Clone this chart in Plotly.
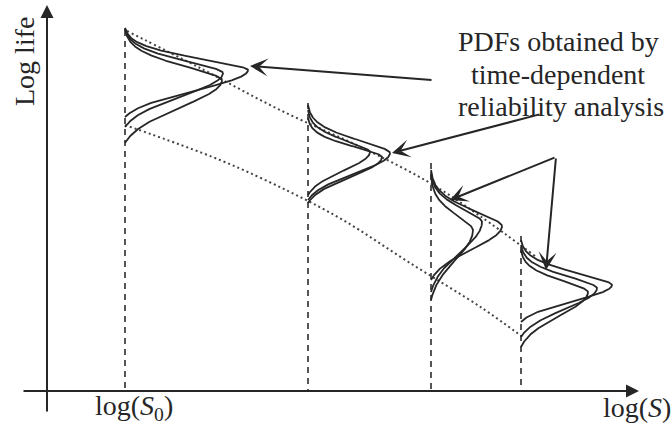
import numpy as np
import plotly.graph_objects as go

# ---- data (chart units: origin at the axes crossing, y = log life, x = log S) ----
stress_levels = [78, 261, 384, 474]          # log(S) positions of the four stress levels
dash_tops = [361, 288, 228, 155]             # top of the dashed guide at each level

# three PDFs per level: top of upper tail, mode, peak height, end of lower tail
pdf_tops = [[363, 363, 362], [286, 281, 273], [221, 219, 216], [151, 146, 141]]
pdf_modes = [[321, 318, 311], [238, 239, 234], [165, 169, 161], [106, 103, 99]]
pdf_peaks = [[123, 98, 97], [82, 62, 74], [71, 51, 42], [91, 76, 67]]
pdf_bottoms = [[274, 264, 248], [191, 196, 188], [111, 99, 91], [69, 54, 44]]

upper_x = [80, 153, 233, 320, 383, 433, 488]
upper_y = [360, 323, 281, 241, 208, 175, 135]
lower_x = [78, 173, 243, 296, 363, 435, 477]
lower_y = [266, 231, 199, 171, 128, 83, 53]

text_lines = ["PDFs obtained by", "time-dependent", "reliability analysis"]
text_x = [511, 511, 514]
text_y = [350, 317, 285]

arrow_tips = [(203, 325), (345, 238), (403, 191), (499, 121)]
arrow_tails = [(386, 311), (494, 277), (509, 234), (509, 234)]

x_axis_ends = [-25, 592]
y_axis_ends = [-22, 386]

INK = "#262626"
FONT = "Liberation Serif, Times New Roman, serif"

fig = go.Figure()


def branch(r, k, p):
    g_end = np.exp(-k ** p)
    return (np.exp(-(k * r) ** p) - g_end) / (1 - g_end)


def pdf_curve(level, top, mode, peak, bottom):
    # upper (long) tail and lower branch of a skewed bell, drawn sideways
    y_up = np.linspace(top, mode, 200)
    g_up = branch((y_up - mode) / (top - mode), 2.4, 1.7)
    y_dn = np.linspace(mode, bottom, 200)[1:]
    g_dn = branch((mode - y_dn) / (mode - bottom), 1.65, 2.0)
    y = np.concatenate([y_up, y_dn])
    g = np.clip(np.concatenate([g_up, g_dn]), 0, None)
    return level + peak * g, y


# dashed guides
for lv, tp in zip(stress_levels, dash_tops):
    fig.add_trace(go.Scatter(x=[lv, lv], y=[tp, 0], mode="lines",
                             line=dict(color="#444", width=1.8, dash="6px,5px"),
                             hoverinfo="skip", showlegend=False))

# dotted bounds
for xs, ys in [(upper_x, upper_y), (lower_x, lower_y)]:
    fig.add_trace(go.Scatter(x=xs, y=ys, mode="lines", line_shape="spline",
                             line=dict(color="#444", width=2, dash="2px,3px"),
                             hoverinfo="skip", showlegend=False))

# PDFs
for i, lv in enumerate(stress_levels):
    for j in range(3):
        cx, cy = pdf_curve(lv, pdf_tops[i][j], pdf_modes[i][j], pdf_peaks[i][j], pdf_bottoms[i][j])
        fig.add_trace(go.Scatter(x=cx, y=cy, mode="lines",
                                 line=dict(color=INK, width=1.8),
                                 hoverinfo="skip", showlegend=False))

annotations = []
# axes with arrowheads
annotations.append(dict(x=x_axis_ends[1], y=0, ax=x_axis_ends[0], ay=0, xref="x", yref="y",
                        axref="x", ayref="y", text="", showarrow=True, arrowhead=2,
                        arrowsize=1.3, arrowwidth=2, arrowcolor=INK, standoff=0))
annotations.append(dict(x=0, y=y_axis_ends[1], ax=0, ay=y_axis_ends[0], xref="x", yref="y",
                        axref="x", ayref="y", text="", showarrow=True, arrowhead=2,
                        arrowsize=1.3, arrowwidth=2, arrowcolor=INK, standoff=0))
# pointer arrows
for (tx, ty), (sx, sy) in zip(arrow_tips, arrow_tails):
    annotations.append(dict(x=tx, y=ty, ax=sx, ay=sy, xref="x", yref="y",
                            axref="x", ayref="y", text="", showarrow=True, arrowhead=3,
                            arrowsize=1.5, arrowwidth=2, arrowcolor=INK, standoff=0))

# texts
for t, tx, ty in zip(text_lines, text_x, text_y):
    annotations.append(dict(x=tx, y=ty, xref="x", yref="y", text=t, showarrow=False,
                            font=dict(family=FONT, size=28, color=INK),
                            xanchor="center", yanchor="middle"))
annotations.append(dict(x=-23, y=329, xref="x", yref="y", text="Log life", showarrow=False,
                        textangle=-90, font=dict(family=FONT, size=28, color=INK),
                        xanchor="center", yanchor="middle"))
annotations.append(dict(x=87, y=-16, xref="x", yref="y", text="log(<i>S</i><sub>0</sub>)",
                        showarrow=False, font=dict(family=FONT, size=28, color=INK),
                        xanchor="center", yanchor="middle"))
annotations.append(dict(x=590, y=-16, xref="x", yref="y", text="log(<i>S</i>)",
                        showarrow=False, font=dict(family=FONT, size=28, color=INK),
                        xanchor="center", yanchor="middle"))

fig.update_layout(
    width=672, height=424, autosize=False,
    margin=dict(l=0, r=0, t=0, b=0),
    paper_bgcolor="white", plot_bgcolor="white",
    xaxis=dict(range=[-47, 625], visible=False, fixedrange=True),
    yaxis=dict(range=[-33, 391], visible=False, fixedrange=True),
    annotations=annotations,
    showlegend=False,
)

fig.write_html("out.html", config={"displayModeBar": False},
               post_script="document.body.style.margin='0';document.body.style.overflow='hidden';")
